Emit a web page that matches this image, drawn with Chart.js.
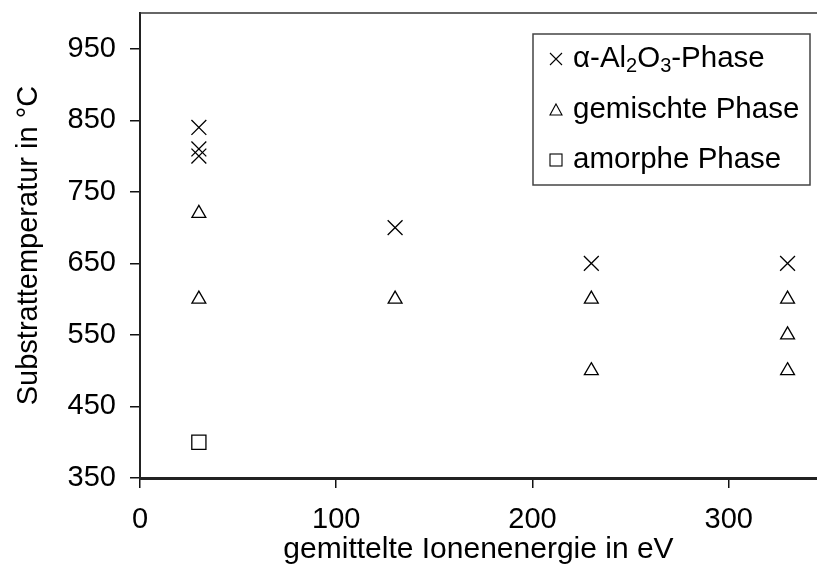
<!DOCTYPE html>
<html>
<head>
<meta charset="utf-8">
<script src="https://cdn.jsdelivr.net/npm/chart.js@4.4.0/dist/chart.umd.min.js"></script>
<style>
  body { margin: 0; background: #fff; }
  #wrap { width: 817px; height: 565px; }
</style>
</head>
<body>
<div id="wrap"><canvas id="phaseChart" width="817" height="565"></canvas></div>
<script>
  // data
  const alphaX = [30, 30, 30, 130, 230, 330];
  const alphaY = [840, 810, 800, 700, 650, 650];
  const mixedX = [30, 30, 130, 230, 230, 330, 330, 330];
  const mixedY = [720, 600, 600, 600, 500, 600, 550, 500];
  const amorphX = [30];
  const amorphY = [400];

  const xTicks = [0, 100, 200, 300];
  const yTicks = [350, 450, 550, 650, 750, 850, 950];

  const FONT = "Liberation Sans, Arial, sans-serif";

  function toPoints(xs, ys) {
    return xs.map((x, i) => ({ x: x, y: ys[i] }));
  }

  // top frame line + legend box drawn inside the plot
  const framePlugin = {
    id: "frame",
    afterDraw(chart) {
      const ctx = chart.ctx;
      const a = chart.chartArea;
      ctx.save();
      ctx.strokeStyle = "#333";
      ctx.lineWidth = 1.5;
      ctx.beginPath();
      ctx.moveTo(a.left, a.top);
      ctx.lineTo(a.right, a.top);
      ctx.stroke();

      // legend
      const bx = 533, by = 34, bw = 277, bh = 151;
      ctx.strokeStyle = "#444";
      ctx.lineWidth = 1.5;
      ctx.strokeRect(bx, by, bw, bh);

      const mx = 556;
      const rows = [59, 110, 160];
      ctx.strokeStyle = "#000";
      ctx.lineWidth = 1.1;
      // cross
      let y = rows[0];
      ctx.beginPath();
      ctx.moveTo(mx - 6, y - 6); ctx.lineTo(mx + 6, y + 6);
      ctx.moveTo(mx - 6, y + 6); ctx.lineTo(mx + 6, y - 6);
      ctx.stroke();
      // triangle
      y = rows[1];
      ctx.beginPath();
      ctx.moveTo(mx, y - 6); ctx.lineTo(mx + 6, y + 5); ctx.lineTo(mx - 6, y + 5);
      ctx.closePath();
      ctx.stroke();
      // square
      y = rows[2];
      ctx.strokeRect(mx - 6, y - 6, 12, 12);

      ctx.fillStyle = "#000";
      ctx.textBaseline = "middle";
      ctx.textAlign = "left";
      const big = "29.5px " + FONT;
      const small = "20px " + FONT;
      let tx = 573;
      const parts = [["α-Al", 0], ["2", 1], ["O", 0], ["3", 1], ["-Phase", 0]];
      parts.forEach(p => {
        ctx.font = p[1] ? small : big;
        ctx.fillText(p[0], tx, rows[0] + (p[1] ? 7 : 0));
        tx += ctx.measureText(p[0]).width;
      });
      ctx.font = big;
      ctx.fillText("gemischte Phase", 573, rows[1]);
      ctx.fillText("amorphe Phase", 573, rows[2]);
      ctx.restore();
    }
  };

  const ctx = document.getElementById("phaseChart").getContext("2d");
  const myChart = new Chart(ctx, {
    type: "scatter",
    data: {
      datasets: [
        {
          label: "α-Al2O3-Phase",
          data: toPoints(alphaX, alphaY),
          pointStyle: "crossRot",
          radius: 10.5,
          borderColor: "#000",
          borderWidth: 1.3,
          backgroundColor: "transparent"
        },
        {
          label: "gemischte Phase",
          data: toPoints(mixedX, mixedY),
          pointStyle: "triangle",
          radius: 8,
          borderColor: "#000",
          borderWidth: 1.3,
          backgroundColor: "transparent"
        },
        {
          label: "amorphe Phase",
          data: toPoints(amorphX, amorphY),
          pointStyle: "rect",
          radius: 10,
          borderColor: "#000",
          borderWidth: 1.3,
          backgroundColor: "transparent"
        }
      ]
    },
    options: {
      responsive: false,
      animation: false,
      events: [],
      layout: { autoPadding: false, padding: { top: 13, right: 0, left: 0, bottom: 0 } },
      plugins: {
        legend: { display: false },
        tooltip: { enabled: false }
      },
      scales: {
        x: {
          type: "linear",
          min: 0,
          max: 345,
          afterBuildTicks: (scale) => { scale.ticks = xTicks.map(v => ({ value: v })); },
          afterFit: (scale) => {
            scale.height = 87;
            scale.paddingLeft = 0;
            scale.paddingRight = 0;
          },
          border: { color: "#222", width: 3 },
          grid: { drawOnChartArea: false, color: "#111", tickLength: 10, lineWidth: 1.5 },
          ticks: { color: "#000", font: { family: FONT, size: 29 }, padding: 15, maxRotation: 0 },
          title: {
            display: true,
            text: "gemittelte Ionenenergie in eV",
            color: "#000",
            font: { family: FONT, size: 30, lineHeight: 1.0 },
            padding: { top: 0, bottom: 0 }
          }
        },
        y: {
          type: "linear",
          min: 350,
          max: 1000,
          afterBuildTicks: (scale) => { scale.ticks = yTicks.map(v => ({ value: v })); },
          afterFit: (scale) => {
            scale.width = 140;
            scale.paddingTop = 0;
            scale.paddingBottom = 0;
          },
          border: { color: "#222", width: 2 },
          grid: { drawOnChartArea: false, color: "#111", tickLength: 10, lineWidth: 1.5 },
          ticks: { color: "#000", font: { family: FONT, size: 29 }, padding: 14 },
          title: {
            display: true,
            text: "Substrattemperatur in °C",
            color: "#000",
            font: { family: FONT, size: 29 },
            padding: { top: 12, bottom: 0 }
          }
        }
      }
    },
    plugins: [framePlugin]
  });
</script>
</body>
</html>
